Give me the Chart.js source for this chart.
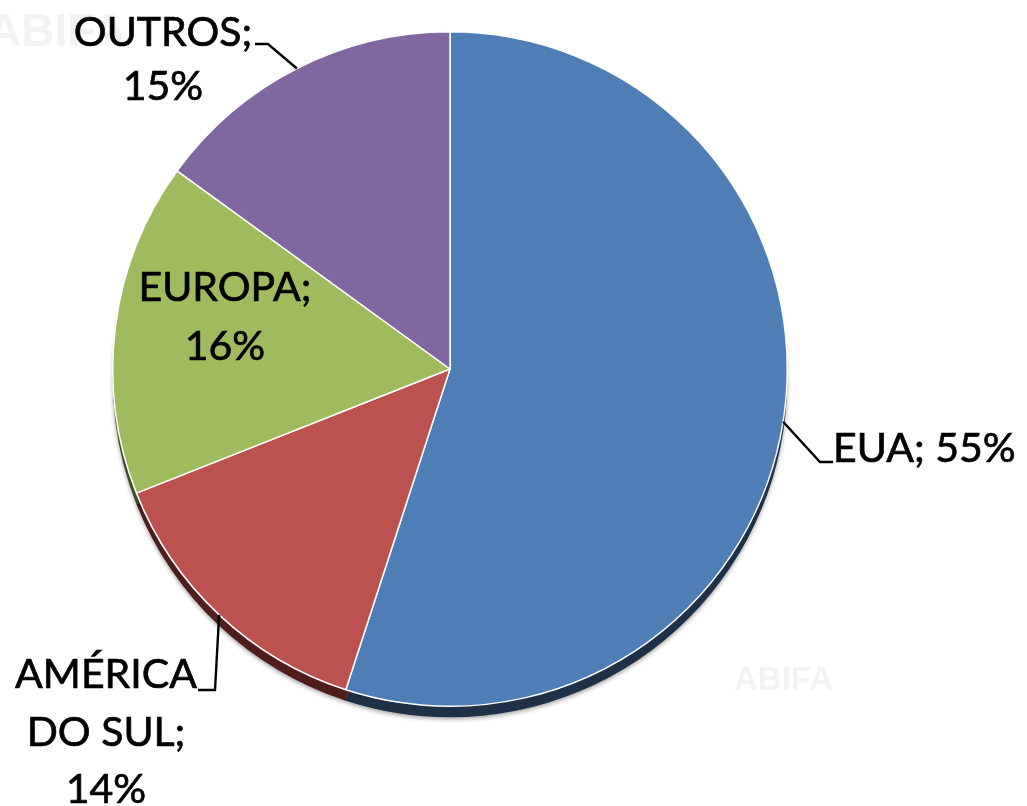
<!DOCTYPE html>
<html>
<head>
<meta charset="utf-8">
<script src="https://cdn.jsdelivr.net/npm/chart.js@4/dist/chart.umd.min.js"></script>
<style>
  html, body { margin: 0; padding: 0; background: #fff; }
  #wrap { position: relative; width: 1027px; height: 806px; }
</style>
</head>
<body>
<div id="wrap"><canvas id="pieChart"></canvas></div>
<script>
const regions = ['EUA', 'AMÉRICA DO SUL', 'EUROPA', 'OUTROS'];
const shares = [55, 14, 16, 15];
const sliceColors = ['#4E7EB5', '#BC524F', '#A0BB5E', '#8067A0'];
const shadowColors = ['#1F3049', '#4E1D1C', '#3E4C22', '#33284A'];

// how the label text of each slice is broken into lines (words per line),
// and where it sits relative to the pie centre
const labelLayout = [
  { words: [2], align: 'left', dx: 383, dy: 80, lineH: 57, elbow: [370, 93], end: [383, 93] },
  { words: [1, 2, 1], align: 'center', dx: -344, dy: 306, lineH: 57.5, elbow: [-235, 321], end: [-252, 321] },
  { words: [1, 1], align: 'center', dx: -225, dy: -81, lineH: 59 },
  { words: [1, 1], align: 'center', dx: -287, dy: -336, lineH: 54, elbow: [-182, -325], end: [-195, -325] }
];

function labelLines(i) {
  const tokens = (regions[i] + '; ' + shares[i] + '%').split(' ');
  const lines = [];
  let k = 0;
  labelLayout[i].words.forEach(n => {
    lines.push(tokens.slice(k, k + n).join(' '));
    k += n;
  });
  return lines;
}

const pieDecor = {
  id: 'pieDecor',
  beforeDraw(chart) {
    const ctx = chart.ctx;
    ctx.save();
    ctx.fillStyle = '#f2f2f2';
    ctx.font = 'bold 46px "Liberation Sans", sans-serif';
    ctx.textBaseline = 'alphabetic';
    ctx.fillText('ABIFA', -12, 46);
    ctx.font = 'bold 33px "Liberation Sans", sans-serif';
    ctx.fillText('ABIFA', 734, 690);
    ctx.restore();
  },
  beforeDatasetsDraw(chart) {
    const ctx = chart.ctx;
    const meta = chart.getDatasetMeta(0);
    ctx.save();
    ctx.shadowColor = 'rgba(0,0,0,0.35)';
    ctx.shadowBlur = 4;
    ctx.shadowOffsetY = 2;
    meta.data.forEach((arc, i) => {
      const p = arc.getProps(['x', 'y', 'startAngle', 'endAngle', 'outerRadius'], true);
      ctx.beginPath();
      ctx.moveTo(p.x, p.y + 11);
      ctx.arc(p.x, p.y + 11, p.outerRadius, p.startAngle, p.endAngle);
      ctx.closePath();
      ctx.fillStyle = shadowColors[i];
      ctx.fill();
    });
    ctx.restore();
  },
  afterDatasetsDraw(chart) {
    const ctx = chart.ctx;
    const meta = chart.getDatasetMeta(0);
    ctx.save();
    ctx.fillStyle = '#000';
    ctx.strokeStyle = '#000';
    ctx.font = '41px Lato, "Noto Sans", sans-serif';
    ctx.textBaseline = 'middle';
    meta.data.forEach((arc, i) => {
      const p = arc.getProps(['x', 'y', 'startAngle', 'endAngle', 'outerRadius'], true);
      const lay = labelLayout[i];
      if (lay.elbow) {
        const mid = (p.startAngle + p.endAngle) / 2;
        ctx.lineWidth = 2.4;
        ctx.beginPath();
        ctx.moveTo(p.x + Math.cos(mid) * p.outerRadius, p.y + Math.sin(mid) * p.outerRadius);
        ctx.lineTo(p.x + lay.elbow[0], p.y + lay.elbow[1]);
        ctx.lineTo(p.x + lay.end[0], p.y + lay.end[1]);
        ctx.stroke();
      }
      ctx.textAlign = lay.align;
      ctx.lineWidth = 0.7;
      labelLines(i).forEach((line, j) => {
        const tx = p.x + lay.dx;
        const ty = p.y + lay.dy + j * lay.lineH;
        ctx.fillText(line, tx, ty);
        ctx.strokeText(line, tx, ty);
      });
    });
    ctx.restore();
  }
};

new Chart(document.getElementById('pieChart'), {
  type: 'pie',
  data: {
    labels: regions,
    datasets: [{
      data: shares,
      backgroundColor: sliceColors,
      borderColor: '#ffffff',
      borderWidth: 1.5
    }]
  },
  options: {
    responsive: true,
    maintainAspectRatio: false,
    animation: false,
    layout: { padding: { left: 112, right: 239, top: 31, bottom: 99 } },
    plugins: {
      legend: { display: false },
      tooltip: { enabled: false }
    }
  },
  plugins: [pieDecor]
});
</script>
</body>
</html>
